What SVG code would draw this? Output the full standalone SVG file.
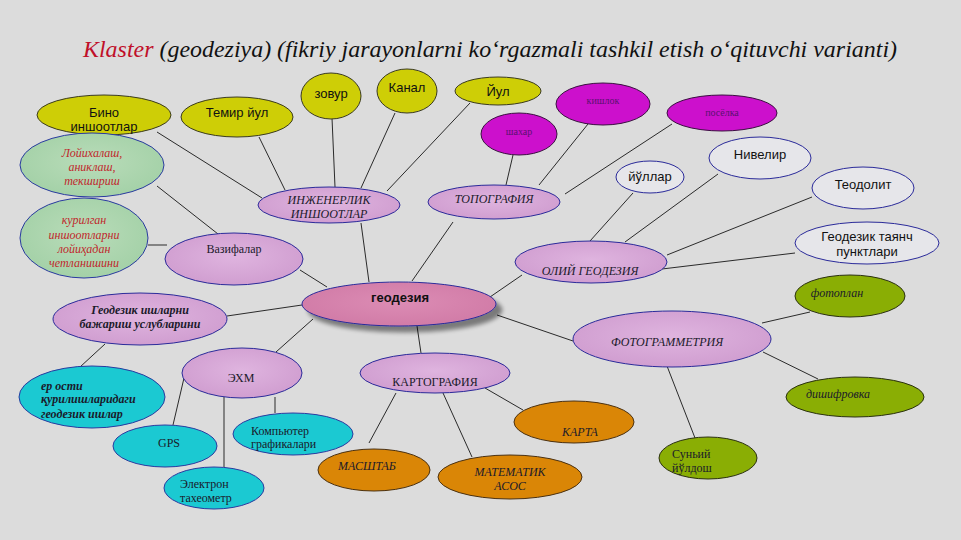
<svg xmlns="http://www.w3.org/2000/svg" width="961" height="540" viewBox="0 0 961 540">
<defs>
<radialGradient id="gLil" cx="50%" cy="45%" r="60%"><stop offset="0" stop-color="#dfb4df"/><stop offset="1" stop-color="#cf9ccf"/></radialGradient>
<radialGradient id="gPink" cx="50%" cy="45%" r="60%"><stop offset="0" stop-color="#dc8cb4"/><stop offset="1" stop-color="#d07aa6"/></radialGradient>
<radialGradient id="gGrn" cx="50%" cy="45%" r="60%"><stop offset="0" stop-color="#b9dcb9"/><stop offset="1" stop-color="#a2d0a6"/></radialGradient>
<filter id="sh" x="-20%" y="-30%" width="140%" height="170%"><feGaussianBlur in="SourceAlpha" stdDeviation="2"/><feOffset dx="6" dy="6"/><feComponentTransfer><feFuncA type="linear" slope="0.45"/></feComponentTransfer><feMerge><feMergeNode/><feMergeNode in="SourceGraphic"/></feMerge></filter>
</defs>
<style>
.yel{fill:#cece06;stroke:#3a3a20;stroke-width:1}
.mag{fill:#cc10cc;stroke:#3a1040;stroke-width:1}
.lil{fill:url(#gLil);stroke:#2a2a9a;stroke-width:1}
.wht{fill:#e6e6ea;stroke:#2a2a9a;stroke-width:1}
.grn{fill:url(#gGrn);stroke:#2a3aa0;stroke-width:1}
.cyn{fill:#1bc9d2;stroke:#2a3aa0;stroke-width:1}
.org{fill:#da8606;stroke:#4a3010;stroke-width:1}
.olv{fill:#8aae04;stroke:#2a3010;stroke-width:1}
.sans{font-family:"Liberation Sans","DejaVu Sans",sans-serif;font-size:13px;fill:#111}
.ser{font-family:"Liberation Serif","Times New Roman",serif;font-size:12px;fill:#1a1a2a}
.it{font-style:italic}
.bd{font-weight:bold}
.red{fill:#c0282c}
.mt{font-family:"Liberation Serif","Times New Roman",serif;font-size:10px;fill:#5a1070}
.ttl{font-family:"Liberation Serif","Times New Roman",serif;font-style:italic;font-size:24px;fill:#111}
text{text-anchor:middle}
.l{text-anchor:start}
#conn line{stroke:#2a2a2a;stroke-width:1}
</style>
<rect width="961" height="540" fill="#dcdcdc"/>
<text class="ttl" x="490" y="57" textLength="814" lengthAdjust="spacingAndGlyphs"><tspan fill="#c0102a">Klaster</tspan> (geodeziya) (fikriy jarayonlarni ko‘rgazmali tashkil etish o‘qituvchi varianti)</text>
<g id="conn">
<line x1="157" y1="132" x2="262" y2="198"/>
<line x1="259" y1="137" x2="285" y2="190"/>
<line x1="332" y1="118" x2="335" y2="187"/>
<line x1="395" y1="113" x2="361" y2="188"/>
<line x1="470" y1="103" x2="387" y2="191"/>
<line x1="513" y1="155" x2="506" y2="185"/>
<line x1="588" y1="124" x2="539" y2="185"/>
<line x1="672" y1="124" x2="565" y2="194"/>
<line x1="361" y1="223" x2="369" y2="282"/>
<line x1="453" y1="222" x2="412" y2="281"/>
<line x1="157" y1="186" x2="218" y2="234"/>
<line x1="148" y1="245" x2="167" y2="245"/>
<line x1="300" y1="270" x2="327" y2="287"/>
<line x1="522" y1="275" x2="490" y2="297"/>
<line x1="633" y1="193" x2="590" y2="241"/>
<line x1="718" y1="174" x2="625" y2="242"/>
<line x1="812" y1="197" x2="667" y2="255"/>
<line x1="795" y1="253" x2="662" y2="269"/>
<line x1="227" y1="316" x2="302" y2="305"/>
<line x1="313" y1="319" x2="276" y2="352"/>
<line x1="105" y1="344" x2="80" y2="367"/>
<line x1="184" y1="378" x2="173" y2="425"/>
<line x1="224" y1="397" x2="224" y2="467"/>
<line x1="275" y1="397" x2="275" y2="413"/>
<line x1="417" y1="326" x2="421" y2="353"/>
<line x1="497" y1="315" x2="573" y2="341"/>
<line x1="396" y1="393" x2="369" y2="443"/>
<line x1="443" y1="393" x2="472" y2="457"/>
<line x1="485" y1="388" x2="523" y2="410"/>
<line x1="762" y1="323" x2="810" y2="312"/>
<line x1="763" y1="352" x2="818" y2="379"/>
<line x1="667" y1="366" x2="695" y2="438"/>
</g>
<g id="n-bino"><ellipse class="yel" cx="104" cy="115" rx="67" ry="20"/><text class="sans" x="104" y="117">Бино</text><text class="sans" x="104" y="131">иншоотлар</text></g>
<g id="n-temir"><ellipse class="yel" cx="237" cy="117" rx="56" ry="20"/><text class="sans" x="237" y="117">Темир йул</text></g>
<g id="n-zovur"><ellipse class="yel" cx="331" cy="96" rx="30" ry="23"/><text class="sans" x="331" y="98">зовур</text></g>
<g id="n-kanal"><ellipse class="yel" cx="407" cy="91" rx="30" ry="22"/><text class="sans" x="407" y="92">Канал</text></g>
<g id="n-yul"><ellipse class="yel" cx="498" cy="91" rx="43" ry="14"/><text class="sans" x="498" y="96">Йул</text></g>
<g id="n-shahar"><ellipse class="mag" cx="519" cy="134" rx="38" ry="21"/><text class="mt" x="519" y="135">шахар</text></g>
<g id="n-qishloq"><ellipse class="mag" cx="603" cy="104" rx="47" ry="21"/><text class="mt" x="603" y="104">кишлок</text></g>
<g id="n-posyolka"><ellipse class="mag" cx="722" cy="113" rx="55" ry="18"/><text class="mt" x="722" y="116">посёлка</text></g>
<g id="n-inj"><ellipse class="lil" cx="329" cy="205" rx="71" ry="18"/><text class="ser it" x="329" y="204">ИНЖЕНЕРЛИК</text><text class="ser it" x="329" y="218">ИНШООТЛАР</text></g>
<g id="n-topo"><ellipse class="lil" cx="494" cy="202" rx="66" ry="17"/><text class="ser it" x="494" y="203">ТОПОГРАФИЯ</text></g>
<g id="n-loyiha"><ellipse class="grn" cx="92" cy="165" rx="72" ry="32"/><text class="ser it red" x="92" y="157">Лойихалаш,</text><text class="ser it red" x="92" y="171">аниклаш,</text><text class="ser it red" x="92" y="185">текшириш</text></g>
<g id="n-qurilgan"><ellipse class="grn" cx="84" cy="238" rx="64" ry="40"/><text class="ser it red" x="84" y="224">курилган</text><text class="ser it red" x="84" y="239">иншоотларни</text><text class="ser it red" x="84" y="253">лойиҳадан</text><text class="ser it red" x="84" y="267">четланишини</text></g>
<g id="n-vazifa"><ellipse class="lil" cx="234" cy="259" rx="69" ry="26"/><text class="ser" x="234" y="253">Вазифалар</text></g>
<g id="n-geodeziya"><ellipse cx="399" cy="304" rx="97" ry="22" fill="url(#gPink)" stroke="#2a2a9a" stroke-width="1" filter="url(#sh)"/><text class="sans bd" x="400" y="302">геодезия</text></g>
<g id="n-oliy"><ellipse class="lil" cx="591" cy="262" rx="76" ry="21"/><text class="ser it" x="590" y="275">ОЛИЙ ГЕОДЕЗИЯ</text></g>
<g id="n-yullar"><ellipse class="wht" cx="650" cy="177" rx="34" ry="16"/><text class="sans" x="650" y="181">йўллар</text></g>
<g id="n-nivelir"><ellipse class="wht" cx="760" cy="158" rx="51" ry="21"/><text class="sans" x="760" y="159">Нивелир</text></g>
<g id="n-teodolit"><ellipse class="wht" cx="863" cy="188" rx="51" ry="21"/><text class="sans" x="863" y="189">Теодолит</text></g>
<g id="n-tayanch"><ellipse class="wht" cx="867" cy="243" rx="72" ry="21"/><text class="sans" x="867" y="241">Геодезик таянч</text><text class="sans" x="867" y="256">пунктлари</text></g>
<g id="n-uslub"><ellipse class="lil" cx="140" cy="319" rx="87" ry="26"/><text class="ser it bd" x="140" y="314">Геодезик ишларни</text><text class="ser it bd" x="140" y="328">бажариш услубларини</text></g>
<g id="n-ehm"><ellipse class="lil" cx="242" cy="373" rx="60" ry="25"/><text class="ser" x="241" y="382">ЭХМ</text></g>
<g id="n-erosti"><ellipse class="cyn" cx="92" cy="397" rx="73" ry="31"/><text class="ser it bd l" x="41" y="390">ер ости</text><text class="ser it bd l" x="41" y="403">қурилишларидаги</text><text class="ser it bd l" x="41" y="418">геодезик ишлар</text></g>
<g id="n-gps"><ellipse class="cyn" cx="165" cy="446" rx="52" ry="21"/><text class="ser" x="169" y="447">GPS</text></g>
<g id="n-komp"><ellipse class="cyn" cx="293" cy="434" rx="60" ry="21"/><text class="ser l" x="251" y="435">Компьютер</text><text class="ser l" x="251" y="448">графикалари</text></g>
<g id="n-elektron"><ellipse class="cyn" cx="214" cy="488" rx="50" ry="21"/><text class="ser l" x="180" y="488">Электрон</text><text class="ser l" x="180" y="502">тахеометр</text></g>
<g id="n-karto"><ellipse class="lil" cx="435" cy="373" rx="75" ry="20"/><text class="ser" x="435" y="386">КАРТОГРАФИЯ</text></g>
<g id="n-masshtab"><ellipse class="org" cx="374" cy="470" rx="56" ry="21"/><text class="ser it" x="367" y="470">МАСШТАБ</text></g>
<g id="n-matem"><ellipse class="org" cx="510" cy="477" rx="72" ry="22"/><text class="ser it" x="510" y="476">МАТЕМАТИК</text><text class="ser it" x="510" y="490">АСОС</text></g>
<g id="n-karta"><ellipse class="org" cx="574" cy="422" rx="60" ry="21"/><text class="ser it" x="580" y="436" fill="#3a0a10">КАРТА</text></g>
<g id="n-foto"><ellipse class="lil" cx="672" cy="339" rx="99" ry="28"/><text class="ser it" x="667" y="346">ФОТОГРАММЕТРИЯ</text></g>
<g id="n-fotoplan"><ellipse class="olv" cx="850" cy="296" rx="55" ry="21"/><text class="ser it" x="837" y="297">фотоплан</text></g>
<g id="n-dish"><ellipse class="olv" cx="855" cy="397" rx="69" ry="20"/><text class="ser it" x="838" y="398">дишифровка</text></g>
<g id="n-sunyi"><ellipse class="olv" cx="708" cy="458" rx="49" ry="21"/><text class="ser l" x="672" y="458">Суньий</text><text class="ser l" x="672" y="472">йўлдош</text></g>
</svg>
